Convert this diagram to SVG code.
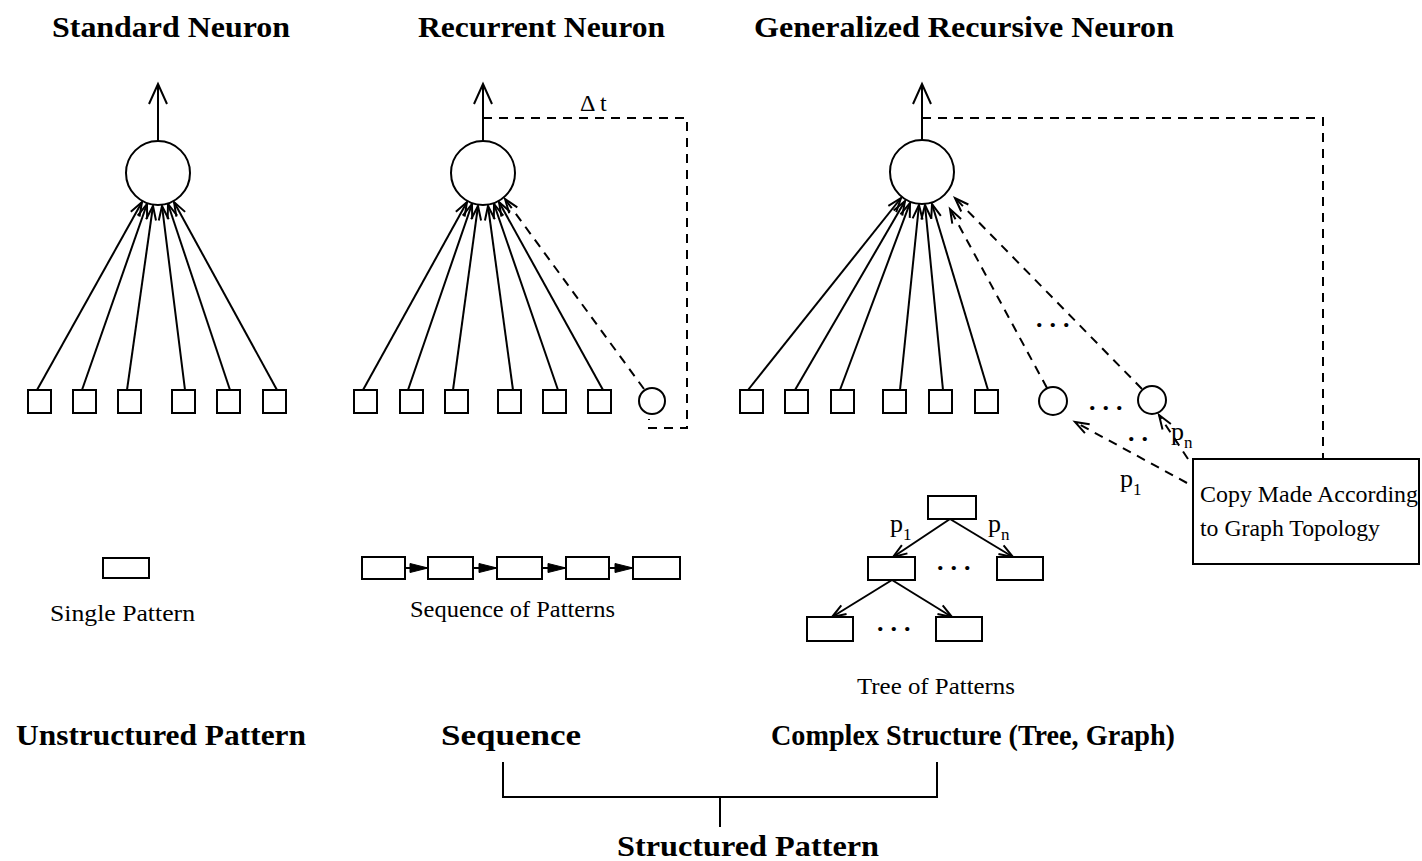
<svg xmlns="http://www.w3.org/2000/svg" width="1422" height="861" viewBox="0 0 1422 861">
  <style>
    .ln { stroke: #000; stroke-width: 2; fill: none; }
    .dash { stroke: #000; stroke-width: 2; fill: none; stroke-dasharray: 9 7; }
    .box { stroke: #000; stroke-width: 2; fill: #fff; }
    .hd { font-family: "Liberation Serif", "Times New Roman", serif; font-weight: bold; font-size: 30px; fill: #000; }
    .tx { font-family: "Liberation Serif", "Times New Roman", serif; font-size: 24px; fill: #000; }
    .lb { font-family: "Liberation Serif", "Times New Roman", serif; font-size: 26px; fill: #000; }
    .sub { font-size: 17px; }
    .dots { font-family: "Liberation Serif", "Times New Roman", serif; font-weight: bold; font-size: 26px; fill: #000; letter-spacing: 7px; }
  </style>
  <defs>
    <marker id="arrOpen" markerUnits="userSpaceOnUse" markerWidth="20" markerHeight="20" refX="0" refY="0" orient="auto" overflow="visible">
      <path d="M-14,-5 L0,0 L-14,5" fill="none" stroke="#000" stroke-width="2" stroke-dasharray="none"/>
    </marker>
    <marker id="arrOut" markerUnits="userSpaceOnUse" markerWidth="24" markerHeight="24" refX="0" refY="0" orient="auto" overflow="visible">
      <path d="M-20,-9 L0,0 L-20,9" fill="none" stroke="#000" stroke-width="2"/>
    </marker>
    <marker id="arrFill" markerUnits="userSpaceOnUse" markerWidth="20" markerHeight="20" refX="0" refY="0" orient="auto" overflow="visible">
      <path d="M-18,-4.5 L0,0 L-18,4.5 Z" fill="#000" stroke="#000" stroke-width="1"/>
    </marker>
  </defs>
  <rect width="1422" height="861" fill="#fff"/>

  <!-- headings -->
  <g id="headings">
    <text class="hd" x="52" y="37" textLength="238" lengthAdjust="spacingAndGlyphs">Standard Neuron</text>
    <text class="hd" x="418" y="37" textLength="247" lengthAdjust="spacingAndGlyphs">Recurrent Neuron</text>
    <text class="hd" x="754" y="37" textLength="420" lengthAdjust="spacingAndGlyphs">Generalized Recursive Neuron</text>
  </g>

  <!-- connectors -->
  <g id="connectors">
    <!-- standard neuron -->
    <line class="ln" x1="158" y1="141" x2="158" y2="84" marker-end="url(#arrOut)"/>
    <line class="ln" x1="37" y1="390" x2="142" y2="202" marker-end="url(#arrOpen)"/>
    <line class="ln" x1="82" y1="390" x2="147" y2="204" marker-end="url(#arrOpen)"/>
    <line class="ln" x1="127" y1="390" x2="153" y2="206" marker-end="url(#arrOpen)"/>
    <line class="ln" x1="185" y1="390" x2="162" y2="206" marker-end="url(#arrOpen)"/>
    <line class="ln" x1="230" y1="390" x2="168" y2="204" marker-end="url(#arrOpen)"/>
    <line class="ln" x1="277" y1="390" x2="174" y2="202" marker-end="url(#arrOpen)"/>

    <!-- recurrent neuron -->
    <line class="ln" x1="483" y1="141" x2="483" y2="84" marker-end="url(#arrOut)"/>
    <line class="ln" x1="363" y1="390" x2="467" y2="202" marker-end="url(#arrOpen)"/>
    <line class="ln" x1="408" y1="390" x2="472" y2="204" marker-end="url(#arrOpen)"/>
    <line class="ln" x1="453" y1="390" x2="478" y2="206" marker-end="url(#arrOpen)"/>
    <line class="ln" x1="513" y1="390" x2="488" y2="206" marker-end="url(#arrOpen)"/>
    <line class="ln" x1="558" y1="390" x2="494" y2="204" marker-end="url(#arrOpen)"/>
    <line class="ln" x1="603" y1="390" x2="499" y2="202" marker-end="url(#arrOpen)"/>
    <line class="dash" x1="644" y1="389" x2="505" y2="199" marker-end="url(#arrOpen)"/>
    <path class="dash" d="M483,118 H687 V428 H649 V419"/>
    <text class="tx" x="580" y="111" font-size="22">Δ t</text>

    <!-- generalized recursive neuron -->
    <line class="ln" x1="922" y1="140" x2="922" y2="84" marker-end="url(#arrOut)"/>
    <line class="ln" x1="748" y1="390" x2="901" y2="198" marker-end="url(#arrOpen)"/>
    <line class="ln" x1="795" y1="390" x2="905" y2="201" marker-end="url(#arrOpen)"/>
    <line class="ln" x1="840" y1="390" x2="910" y2="203" marker-end="url(#arrOpen)"/>
    <line class="ln" x1="900" y1="390" x2="919" y2="205" marker-end="url(#arrOpen)"/>
    <line class="ln" x1="943" y1="390" x2="925" y2="205" marker-end="url(#arrOpen)"/>
    <line class="ln" x1="988" y1="390" x2="932" y2="204" marker-end="url(#arrOpen)"/>
    <line class="dash" x1="1047" y1="388" x2="950" y2="209" marker-end="url(#arrOpen)"/>
    <line class="dash" x1="1142" y1="389" x2="955" y2="198" marker-end="url(#arrOpen)"/>
    <text class="dots" x="1036" y="327">...</text>
    <path class="dash" d="M922,118 H1323 V459"/>

    <!-- copies made from the graph topology -->
    <line class="dash" x1="1187" y1="483" x2="1075" y2="422" marker-end="url(#arrOpen)"/>
    <line class="dash" x1="1188" y1="459" x2="1159" y2="415" marker-end="url(#arrOpen)"/>
    <text class="dots" x="1089" y="410">...</text>
    <text class="dots" x="1128" y="441">..</text>
    <text class="lb" x="1120" y="487">p<tspan class="sub" dy="8">1</tspan></text>
    <text class="lb" x="1171" y="440">p<tspan class="sub" dy="8">n</tspan></text>

    <!-- sequence links -->
    <line class="ln" x1="398" y1="568" x2="428" y2="568" marker-end="url(#arrFill)"/>
    <line class="ln" x1="465" y1="568" x2="497" y2="568" marker-end="url(#arrFill)"/>
    <line class="ln" x1="534" y1="568" x2="566" y2="568" marker-end="url(#arrFill)"/>
    <line class="ln" x1="602" y1="568" x2="633" y2="568" marker-end="url(#arrFill)"/>

    <!-- tree links -->
    <line class="ln" x1="950" y1="519" x2="893" y2="557" marker-end="url(#arrOpen)"/>
    <line class="ln" x1="950" y1="519" x2="1013" y2="557" marker-end="url(#arrOpen)"/>
    <line class="ln" x1="892" y1="580" x2="832" y2="617" marker-end="url(#arrOpen)"/>
    <line class="ln" x1="892" y1="580" x2="952" y2="617" marker-end="url(#arrOpen)"/>
    <text class="lb" x="890" y="532">p<tspan class="sub" dy="8">1</tspan></text>
    <text class="lb" x="988" y="532">p<tspan class="sub" dy="8">n</tspan></text>
    <text class="dots" x="937" y="570">...</text>
    <text class="dots" x="877" y="631">...</text>

    <!-- bracket grouping the structured patterns -->
    <path class="ln" d="M503,762 V797 H937 V762 M720,797 V827" stroke-width="1.5"/>
  </g>

  <!-- standard neuron -->
  <g id="standard-neuron">
    <circle class="box" cx="158" cy="173" r="32"/>
    <rect class="box" x="28" y="390" width="23" height="23"/>
    <rect class="box" x="73" y="390" width="23" height="23"/>
    <rect class="box" x="118" y="390" width="23" height="23"/>
    <rect class="box" x="172" y="390" width="23" height="23"/>
    <rect class="box" x="217" y="390" width="23" height="23"/>
    <rect class="box" x="263" y="390" width="23" height="23"/>
  </g>

  <!-- recurrent neuron -->
  <g id="recurrent-neuron">
    <circle class="box" cx="483" cy="173" r="32"/>
    <rect class="box" x="354" y="390" width="23" height="23"/>
    <rect class="box" x="400" y="390" width="23" height="23"/>
    <rect class="box" x="445" y="390" width="23" height="23"/>
    <rect class="box" x="498" y="390" width="23" height="23"/>
    <rect class="box" x="543" y="390" width="23" height="23"/>
    <rect class="box" x="588" y="390" width="23" height="23"/>
    <circle class="box" cx="652" cy="401" r="13"/>
  </g>

  <!-- generalized recursive neuron -->
  <g id="recursive-neuron">
    <circle class="box" cx="922" cy="172" r="32"/>
    <rect class="box" x="740" y="390" width="23" height="23"/>
    <rect class="box" x="785" y="390" width="23" height="23"/>
    <rect class="box" x="831" y="390" width="23" height="23"/>
    <rect class="box" x="883" y="390" width="23" height="23"/>
    <rect class="box" x="929" y="390" width="23" height="23"/>
    <rect class="box" x="975" y="390" width="23" height="23"/>
    <circle class="box" cx="1053" cy="401" r="14"/>
    <circle class="box" cx="1152" cy="400" r="14"/>
  </g>

  <!-- topology note -->
  <g id="topology-note">
    <rect class="box" x="1193" y="459" width="226" height="105"/>
    <text class="tx" x="1200" y="502" textLength="218" lengthAdjust="spacingAndGlyphs">Copy Made According</text>
    <text class="tx" x="1200" y="536" textLength="180" lengthAdjust="spacingAndGlyphs">to Graph Topology</text>
  </g>

  <!-- single pattern -->
  <g id="single-pattern">
    <rect class="box" x="103" y="558" width="46" height="20"/>
    <text class="tx" x="50" y="621" textLength="145" lengthAdjust="spacingAndGlyphs">Single Pattern</text>
  </g>

  <!-- sequence of patterns -->
  <g id="sequence-pattern">
    <rect class="box" x="362" y="557" width="43" height="22" fill="none"/>
    <rect class="box" x="428" y="557" width="45" height="22" fill="none"/>
    <rect class="box" x="497" y="557" width="45" height="22" fill="none"/>
    <rect class="box" x="566" y="557" width="43" height="22" fill="none"/>
    <rect class="box" x="633" y="557" width="47" height="22"/>
    <text class="tx" x="410" y="617" textLength="205" lengthAdjust="spacingAndGlyphs">Sequence of Patterns</text>
  </g>

  <!-- tree of patterns -->
  <g id="tree-pattern">
    <rect class="box" x="928" y="496" width="48" height="23"/>
    <rect class="box" x="868" y="557" width="47" height="23"/>
    <rect class="box" x="997" y="557" width="46" height="23"/>
    <rect class="box" x="807" y="617" width="46" height="24"/>
    <rect class="box" x="936" y="617" width="46" height="24"/>
    <text class="tx" x="857" y="694" textLength="158" lengthAdjust="spacingAndGlyphs">Tree of Patterns</text>
  </g>

  <!-- pattern classes -->
  <g id="pattern-classes">
    <text class="hd" x="16" y="745" textLength="290" lengthAdjust="spacingAndGlyphs">Unstructured Pattern</text>
    <text class="hd" x="441" y="745" textLength="140" lengthAdjust="spacingAndGlyphs">Sequence</text>
    <text class="hd" x="771" y="745" textLength="404" lengthAdjust="spacingAndGlyphs">Complex Structure (Tree, Graph)</text>
    <text class="hd" x="617" y="856" textLength="262" lengthAdjust="spacingAndGlyphs">Structured Pattern</text>
  </g>
</svg>
